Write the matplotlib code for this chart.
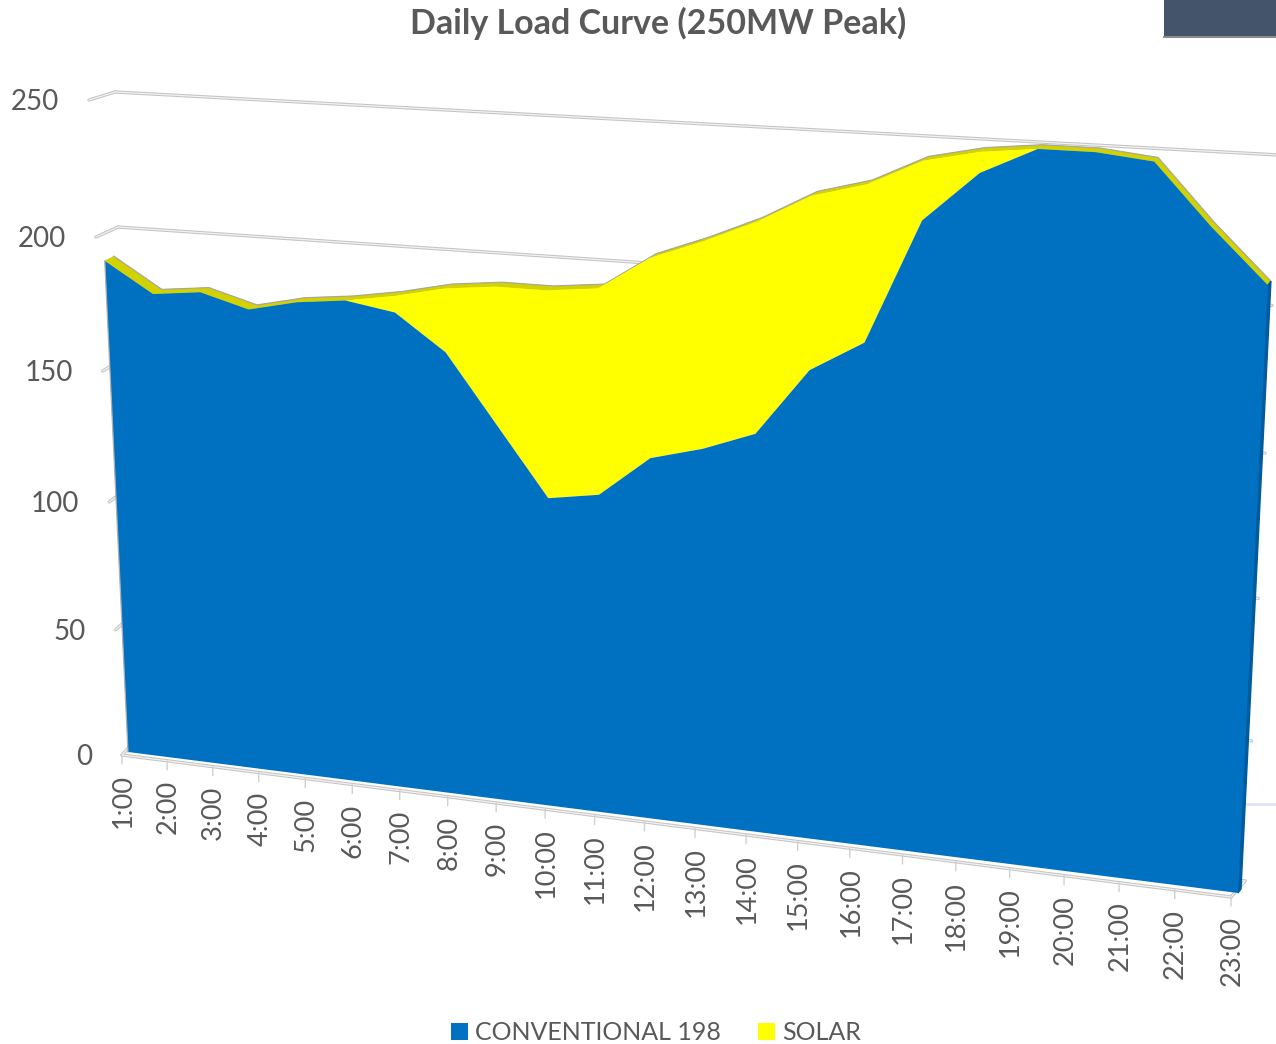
import numpy as np
import matplotlib
matplotlib.use("Agg")
import matplotlib.pyplot as plt
from matplotlib.patches import Patch, Rectangle
from matplotlib.transforms import Transform

plt.rcParams['font.family'] = ['Lato', 'DejaVu Sans']

# Data (MW)
horas = np.arange(1, 24)
etiquetas = ["1:00", "2:00", "3:00", "4:00", "5:00", "6:00", "7:00", "8:00", "9:00", "10:00", "11:00", "12:00",
             "13:00", "14:00", "15:00", "16:00", "17:00", "18:00", "19:00", "20:00", "21:00", "22:00", "23:00"]
conventional = np.array([190, 179, 181, 176, 180, 182, 179, 166, 141, 116, 119, 134,
                         139, 146, 170, 181, 224, 241, 250, 250, 248, 228, 210])
solar = np.array([0, 0, 0, 0, 0, 0, 6, 23, 50, 75, 74, 71,
                  73, 74, 60, 54, 20, 7, 0, 0, 0, 0, 0])
total = conventional + solar
valores_eje = [0, 50, 100, 150, 200, 250]

AZUL = "#0070C0"
AMARILLO = "#FFFF00"
OLIVA = "#D2D200"
LADO = "#005A9E"
GRIS = "#C4C4C4"
TEXTO = "#595959"


# Perspective from (hour, MW) to reference pixels, defined by 4 corners of a plane
class Plano(Transform):
    input_dims = 2
    output_dims = 2

    def __init__(self, abajo_izq, abajo_der, arriba_der, arriba_izq):
        super().__init__()
        src = [(1, 0), (23, 0), (23, 250), (1, 250)]
        dst = [abajo_izq, abajo_der, arriba_der, arriba_izq]
        A, b = [], []
        for (u, v), (x, y) in zip(src, dst):
            A.append([u, v, 1, 0, 0, 0, -u * x, -v * x])
            A.append([0, 0, 0, u, v, 1, -u * y, -v * y])
            b += [x, y]
        self.H = np.append(np.linalg.solve(np.array(A, float), np.array(b, float)), 1).reshape(3, 3)

    def transform_non_affine(self, values):
        pts = np.column_stack([values, np.ones(len(values))]) @ self.H.T
        return pts[:, :2] / pts[:, 2:]


frente = Plano((128, 752), (1238, 893), (1274, 162), (97, 97))     # front face of the area
fondo = Plano((137, 748), (1241, 889), (1277, 158), (106, 92))     # back face of the area
eje = Plano((122, 755), (1231, 897), (1267, 166), (89, 100))       # axis plane
pared = Plano((130, 746), (1245, 881), (1279, 155), (115, 92))     # back wall

fig = plt.figure(figsize=(12.76, 10.44), dpi=100)
ax = fig.add_axes([0, 0, 1, 1])
ax.set_xlim(0, 1276)
ax.set_ylim(1044, 0)
ax.autoscale(False)
ax.axis("off")

t_frente = frente + ax.transData
t_fondo = fondo + ax.transData
t_eje = eje + ax.transData
t_pared = pared + ax.transData


def linea_doble(xs, ys, transform, zorder=1):
    ax.plot(xs, ys, color=GRIS, lw=2.4, transform=transform, zorder=zorder, solid_capstyle="round")
    ax.plot(xs, ys, color="#F2F2F2", lw=0.9, transform=transform, zorder=zorder + 0.1, solid_capstyle="round")


# Grid on the wall and stubs from the axis to the wall
for v in valores_eje:
    linea_doble([1, 23], [v, v], t_pared)
    a = eje.transform([[1, v]])[0]
    b = pared.transform([[1, v]])[0]
    linea_doble([a[0], b[0]], [a[1], b[1]], ax.transData)

# Floor front line and right corner
linea_doble([1, 23], [0, 0], t_eje)
a = eje.transform([[23, 0]])[0]
b = pared.transform([[23, 0]])[0]
linea_doble([a[0], b[0]], [a[1], b[1]], ax.transData)
ax.plot([1245, 1276], [804, 804], color="#DCE6F2", lw=2, zorder=0.5)

# Extruded top of the area, one quad per segment, behind the front faces
perfil = np.column_stack([horas, total])
borde_frente = frente.transform(perfil)
borde_fondo = fondo.transform(perfil)
for k in range(len(horas) - 1):
    quad = np.array([borde_frente[k], borde_frente[k + 1], borde_fondo[k + 1], borde_fondo[k]])
    ax.fill(quad[:, 0], quad[:, 1], facecolor=OLIVA, edgecolor=OLIVA, lw=0.3, zorder=3)
ax.plot(horas, total, color="#A8A8A0", lw=0.9, transform=t_fondo, zorder=3.2)
lado = np.vstack([frente.transform([[23, 0], [23, total[-1]]]), fondo.transform([[23, total[-1]], [23, 0]])])
ax.fill(lado[:, 0], lado[:, 1], color=LADO, zorder=3.5)

# Front faces
ax.fill_between(horas, conventional, total, facecolor=AMARILLO, edgecolor="none", transform=t_frente, zorder=4)
ax.fill_between(horas, 0, conventional, facecolor=AZUL, edgecolor="none", transform=t_frente, zorder=5)
ax.plot([1, 1], [0, conventional[0]], color="#B0B0B0", lw=0.9, transform=t_frente, zorder=5.5)

# Ticks and tick labels
for h, e in zip(horas, etiquetas):
    ax.annotate("", xy=(h, 0), xycoords=t_eje, xytext=(0, -9), textcoords="offset pixels",
                arrowprops=dict(arrowstyle="-", color="#D0D0D0", lw=1, shrinkA=0, shrinkB=0))
    ax.annotate(e, xy=(h, 0), xycoords=t_eje, xytext=(1, -19), textcoords="offset pixels",
                rotation=90, ha="center", va="top", fontsize=19.5, color=TEXTO)
for v in valores_eje:
    ax.annotate(str(v), xy=(1, v), xycoords=t_eje, xytext=(-30, -2), textcoords="offset pixels",
                ha="right", va="center", fontsize=20, color=TEXTO)

ax.text(658, 23, "Daily Load Curve (250MW Peak)", ha="center", va="center",
        fontsize=24.5, fontweight="bold", color=TEXTO)

# Dark box in the corner
ax.add_patch(Rectangle((1164, 0), 112, 36, facecolor="#44546A", edgecolor="none", zorder=2))
ax.plot([1164, 1276], [37, 37], color="#8C8C8C", lw=1.5, zorder=2)

manejadores = [Patch(facecolor=AZUL, label="CONVENTIONAL 198"), Patch(facecolor=AMARILLO, label="SOLAR")]
ax.legend(handles=manejadores, loc="center", bbox_to_anchor=(656 / 1276, 1 - 1033 / 1044), ncol=2, frameon=False,
          fontsize=18, labelcolor=TEXTO, handlelength=0.68, handleheight=0.68, handletextpad=0.28,
          columnspacing=1.48, borderpad=0, borderaxespad=0)

plt.savefig("out.png", dpi=100)
